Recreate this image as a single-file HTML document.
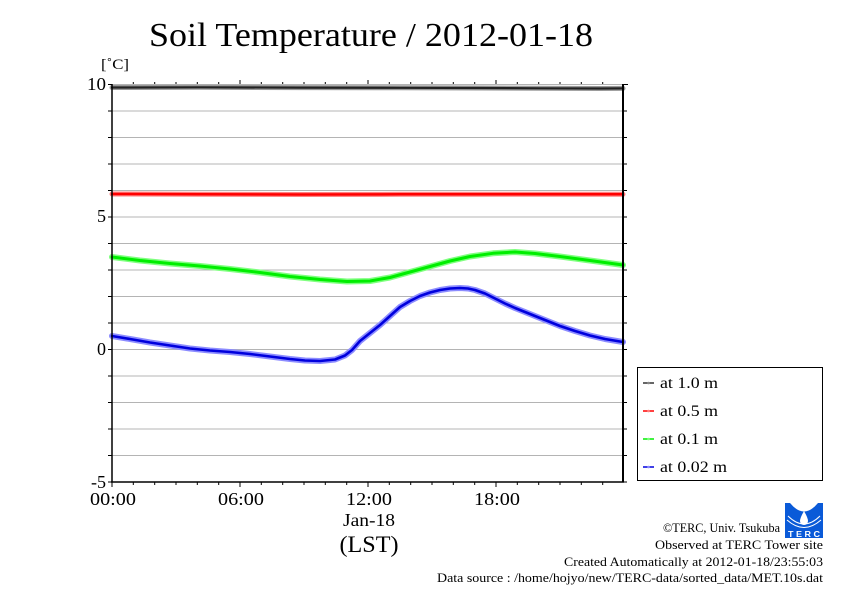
<!DOCTYPE html>
<html><head><meta charset="utf-8"><style>
html,body{margin:0;padding:0;background:#fff;}
svg{display:block;}
text{font-family:"Liberation Serif",serif;fill:#000;}
</style></head><body>
<svg width="842" height="595" viewBox="0 0 842 595" xmlns="http://www.w3.org/2000/svg">
<rect width="842" height="595" fill="#fff"/>
<text x="149" y="46" font-size="34" textLength="444" lengthAdjust="spacingAndGlyphs">Soil Temperature / 2012-01-18</text>
<text x="101" y="69" font-size="15" textLength="28" lengthAdjust="spacingAndGlyphs">[˚C]</text>
<!-- grid -->
<g stroke="#b4b4b4" stroke-width="1">
<line x1="112" y1="84.5" x2="623" y2="84.5"/>
<line x1="112" y1="111" x2="623" y2="111"/>
<line x1="112" y1="137.5" x2="623" y2="137.5"/>
<line x1="112" y1="164" x2="623" y2="164"/>
<line x1="112" y1="190.5" x2="623" y2="190.5"/>
<line x1="112" y1="217" x2="623" y2="217"/>
<line x1="112" y1="243.5" x2="623" y2="243.5"/>
<line x1="112" y1="270" x2="623" y2="270"/>
<line x1="112" y1="296.5" x2="623" y2="296.5"/>
<line x1="112" y1="323" x2="623" y2="323"/>
<line x1="112" y1="349.5" x2="623" y2="349.5"/>
<line x1="112" y1="376" x2="623" y2="376"/>
<line x1="112" y1="402.5" x2="623" y2="402.5"/>
<line x1="112" y1="429" x2="623" y2="429"/>
<line x1="112" y1="455.5" x2="623" y2="455.5"/>
</g>
<!-- left/right ticks -->
<g stroke="#000" stroke-width="1">
<line x1="108" y1="84.5" x2="112" y2="84.5"/><line x1="108" y1="111" x2="112" y2="111"/><line x1="108" y1="137.5" x2="112" y2="137.5"/><line x1="108" y1="164" x2="112" y2="164"/><line x1="108" y1="190.5" x2="112" y2="190.5"/><line x1="108" y1="217" x2="112" y2="217"/><line x1="108" y1="243.5" x2="112" y2="243.5"/><line x1="108" y1="270" x2="112" y2="270"/><line x1="108" y1="296.5" x2="112" y2="296.5"/><line x1="108" y1="323" x2="112" y2="323"/><line x1="108" y1="349.5" x2="112" y2="349.5"/><line x1="108" y1="376" x2="112" y2="376"/><line x1="108" y1="402.5" x2="112" y2="402.5"/><line x1="108" y1="429" x2="112" y2="429"/><line x1="108" y1="455.5" x2="112" y2="455.5"/><line x1="108" y1="482" x2="112" y2="482"/>
<line x1="623" y1="84.5" x2="628" y2="84.5"/><line x1="623" y1="111" x2="627" y2="111"/><line x1="623" y1="137.5" x2="627" y2="137.5"/><line x1="623" y1="164" x2="627" y2="164"/><line x1="623" y1="190.5" x2="627" y2="190.5"/><line x1="623" y1="217" x2="627" y2="217"/><line x1="623" y1="243.5" x2="627" y2="243.5"/><line x1="623" y1="270" x2="627" y2="270"/><line x1="623" y1="296.5" x2="627" y2="296.5"/><line x1="623" y1="323" x2="627" y2="323"/><line x1="623" y1="349.5" x2="627" y2="349.5"/><line x1="623" y1="376" x2="627" y2="376"/><line x1="623" y1="402.5" x2="627" y2="402.5"/><line x1="623" y1="429" x2="627" y2="429"/><line x1="623" y1="455.5" x2="627" y2="455.5"/><line x1="623" y1="482" x2="627" y2="482"/>
</g>
<!-- hourly ticks top and bottom -->
<g stroke="#000" stroke-width="1">
<line x1="133.3" y1="84" x2="133.3" y2="82"/><line x1="154.7" y1="84" x2="154.7" y2="82"/><line x1="176" y1="84" x2="176" y2="82"/><line x1="197.3" y1="84" x2="197.3" y2="82"/><line x1="218.7" y1="84" x2="218.7" y2="82"/><line x1="240" y1="84" x2="240" y2="80"/><line x1="261.3" y1="84" x2="261.3" y2="82"/><line x1="282.7" y1="84" x2="282.7" y2="82"/><line x1="304" y1="84" x2="304" y2="82"/><line x1="325.3" y1="84" x2="325.3" y2="82"/><line x1="346.7" y1="84" x2="346.7" y2="82"/><line x1="368" y1="84" x2="368" y2="80"/><line x1="389.3" y1="84" x2="389.3" y2="82"/><line x1="410.7" y1="84" x2="410.7" y2="82"/><line x1="432" y1="84" x2="432" y2="82"/><line x1="453.3" y1="84" x2="453.3" y2="82"/><line x1="474.7" y1="84" x2="474.7" y2="82"/><line x1="496" y1="84" x2="496" y2="80"/><line x1="517.3" y1="84" x2="517.3" y2="82"/><line x1="538.7" y1="84" x2="538.7" y2="82"/><line x1="560" y1="84" x2="560" y2="82"/><line x1="581.3" y1="84" x2="581.3" y2="82"/><line x1="602.7" y1="84" x2="602.7" y2="82"/>
<line x1="133.3" y1="482" x2="133.3" y2="485"/><line x1="154.7" y1="482" x2="154.7" y2="485"/><line x1="176" y1="482" x2="176" y2="485"/><line x1="197.3" y1="482" x2="197.3" y2="485"/><line x1="218.7" y1="482" x2="218.7" y2="485"/><line x1="240" y1="482" x2="240" y2="487"/><line x1="261.3" y1="482" x2="261.3" y2="485"/><line x1="282.7" y1="482" x2="282.7" y2="485"/><line x1="304" y1="482" x2="304" y2="485"/><line x1="325.3" y1="482" x2="325.3" y2="485"/><line x1="346.7" y1="482" x2="346.7" y2="485"/><line x1="368" y1="482" x2="368" y2="487"/><line x1="389.3" y1="482" x2="389.3" y2="485"/><line x1="410.7" y1="482" x2="410.7" y2="485"/><line x1="432" y1="482" x2="432" y2="485"/><line x1="453.3" y1="482" x2="453.3" y2="485"/><line x1="474.7" y1="482" x2="474.7" y2="485"/><line x1="496" y1="482" x2="496" y2="487"/><line x1="517.3" y1="482" x2="517.3" y2="485"/><line x1="538.7" y1="482" x2="538.7" y2="485"/><line x1="560" y1="482" x2="560" y2="485"/><line x1="581.3" y1="482" x2="581.3" y2="485"/><line x1="602.7" y1="482" x2="602.7" y2="485"/>
<line x1="112" y1="482" x2="112" y2="487"/>
</g>
<!-- series -->
<g fill="none" stroke-linejoin="round" stroke-linecap="round">
<polyline stroke="#9a9a9a" stroke-width="5" points="112,87.5 200,87.3 300,87.6 400,87.8 480,88 540,88.3 600,88.5 623,88.4"/>
<polyline stroke="#222" stroke-width="2.2" points="112,87.5 200,87.3 300,87.6 400,87.8 480,88 540,88.3 600,88.5 623,88.4"/>
<polyline stroke="#ff8080" stroke-width="5" points="112,194 200,194.2 300,194.5 400,194.3 500,194.2 623,194.3"/>
<polyline stroke="#ff0000" stroke-width="2.5" points="112,194 200,194.2 300,194.5 400,194.3 500,194.2 623,194.3"/>
<polyline stroke="#80ff80" stroke-width="6" points="112,257 140,260.5 170,263.5 200,266 230,269 260,272.5 290,276.5 320,279.5 347,281.5 370,281 390,277.5 410,272 430,266.5 450,261 470,256.5 493,253.3 515,252 535,253.5 560,256.5 590,260.5 623,265"/>
<polyline stroke="#00ee00" stroke-width="3" points="112,257 140,260.5 170,263.5 200,266 230,269 260,272.5 290,276.5 320,279.5 347,281.5 370,281 390,277.5 410,272 430,266.5 450,261 470,256.5 493,253.3 515,252 535,253.5 560,256.5 590,260.5 623,265"/>
<polyline stroke="#8c8cff" stroke-width="6" points="112,336 130,339 150,342.5 170,345.5 190,348.5 210,350.5 230,352 250,354 270,356.5 290,359 305,360.5 320,361 335,359.5 345,355.5 352,350 360,341 370,333 380,325 390,316 400,307 410,301 420,296 430,292.5 440,290 450,288.5 460,288 468,288.5 475,290 485,293.5 495,298.5 505,303.5 515,308 530,314 545,320 560,326 575,331 590,335.5 605,339 623,342"/>
<polyline stroke="#0000dd" stroke-width="2.6" points="112,336 130,339 150,342.5 170,345.5 190,348.5 210,350.5 230,352 250,354 270,356.5 290,359 305,360.5 320,361 335,359.5 345,355.5 352,350 360,341 370,333 380,325 390,316 400,307 410,301 420,296 430,292.5 440,290 450,288.5 460,288 468,288.5 475,290 485,293.5 495,298.5 505,303.5 515,308 530,314 545,320 560,326 575,331 590,335.5 605,339 623,342"/>
</g>
<!-- axes -->
<line x1="112" y1="84" x2="112" y2="482.5" stroke="#000" stroke-width="1.5"/>
<line x1="111" y1="482" x2="624" y2="482" stroke="#000" stroke-width="1.5"/>
<line x1="623" y1="84" x2="623" y2="482.5" stroke="#000" stroke-width="2"/>
<!-- y labels -->
<g font-size="18" text-anchor="end">
<text x="106" y="90" textLength="19" lengthAdjust="spacingAndGlyphs">10</text>
<text x="106" y="222">5</text>
<text x="106" y="355">0</text>
<text x="106" y="488">-5</text>
</g>
<!-- x labels -->
<g font-size="18" text-anchor="middle" lengthAdjust="spacingAndGlyphs">
<text x="113" y="505" textLength="46" lengthAdjust="spacingAndGlyphs">00:00</text>
<text x="241" y="505" textLength="46" lengthAdjust="spacingAndGlyphs">06:00</text>
<text x="369" y="505" textLength="46" lengthAdjust="spacingAndGlyphs">12:00</text>
<text x="497" y="505" textLength="46" lengthAdjust="spacingAndGlyphs">18:00</text>
<text x="369" y="526" textLength="52" lengthAdjust="spacingAndGlyphs">Jan-18</text>
<text x="369" y="552" font-size="23" textLength="59" lengthAdjust="spacingAndGlyphs">(LST)</text>
</g>
<!-- legend -->
<rect x="637.5" y="367.5" width="185" height="113" fill="#fff" stroke="#000" stroke-width="1"/>
<g stroke-width="1.5">
<line x1="643" y1="383" x2="654" y2="383" stroke="#333"/><circle cx="648.5" cy="383" r="1.3" fill="#888" stroke="none"/>
<line x1="643" y1="411" x2="654" y2="411" stroke="#ff0000"/><circle cx="648.5" cy="411" r="1.3" fill="#ff8080" stroke="none"/>
<line x1="643" y1="439" x2="654" y2="439" stroke="#00ee00"/><circle cx="648.5" cy="439" r="1.3" fill="#80ff80" stroke="none"/>
<line x1="643" y1="467" x2="654" y2="467" stroke="#0000dd"/><circle cx="648.5" cy="467" r="1.3" fill="#8c8cff" stroke="none"/>
</g>
<g font-size="16">
<text x="660" y="388" textLength="58" lengthAdjust="spacingAndGlyphs">at 1.0 m</text>
<text x="660" y="416" textLength="58" lengthAdjust="spacingAndGlyphs">at 0.5 m</text>
<text x="660" y="444" textLength="58" lengthAdjust="spacingAndGlyphs">at 0.1 m</text>
<text x="660" y="472" textLength="67" lengthAdjust="spacingAndGlyphs">at 0.02 m</text>
</g>
<!-- logo -->
<g>
<rect x="785" y="503" width="38" height="35" fill="#0a5ad8"/>
<path d="M790,503 Q804,520 818,503 Z" fill="#fff"/>
<path d="M804,511 Q800,518 800,521 A4,4 0 0 0 808,521 Q808,518 804,511 Z" fill="#fff"/>
<path d="M788,516 Q804,532 820,516" fill="none" stroke="#fff" stroke-width="1"/>
<path d="M787,520 Q804,535 821,520" fill="none" stroke="#fff" stroke-width="1"/>
<text x="804" y="537" font-size="8" text-anchor="middle" style="fill:#fff;font-family:'Liberation Sans',sans-serif;font-weight:bold" textLength="32" lengthAdjust="spacingAndGlyphs">T E R C</text>
</g>
<!-- credits -->
<g font-size="13" text-anchor="end">
<text x="780" y="532" textLength="117" lengthAdjust="spacingAndGlyphs">©TERC, Univ. Tsukuba</text>
<text x="823" y="549" textLength="168" lengthAdjust="spacingAndGlyphs">Observed at TERC Tower site</text>
<text x="823" y="566" textLength="259" lengthAdjust="spacingAndGlyphs">Created Automatically at 2012-01-18/23:55:03</text>
<text x="823" y="582" textLength="386" lengthAdjust="spacingAndGlyphs">Data source : /home/hojyo/new/TERC-data/sorted_data/MET.10s.dat</text>
</g>
</svg>
</body></html>
